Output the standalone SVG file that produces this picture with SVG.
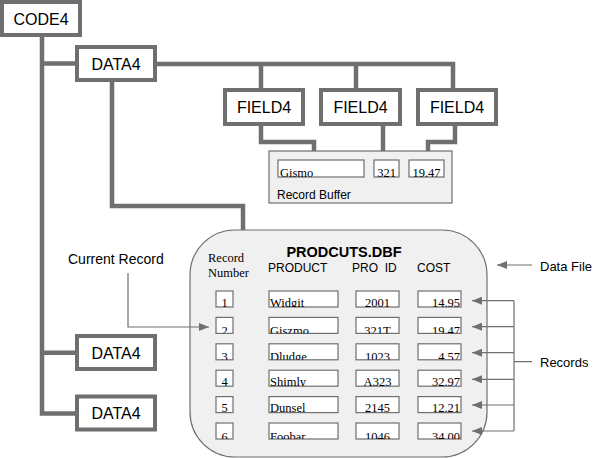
<svg xmlns="http://www.w3.org/2000/svg" width="600" height="458" viewBox="0 0 600 458">
<style>
.box{fill:#fff;stroke:#6f6f6f;stroke-width:4}
.lbl{font-family:"Liberation Sans",Arial,sans-serif;font-size:16px;fill:#000;text-anchor:middle}
.thick{fill:none;stroke:#6f6f6f;stroke-width:4.5}
.thin{fill:none;stroke:#6f6f6f;stroke-width:1.2}
.panel{fill:#f0f0f0;stroke:#6f6f6f;stroke-width:1.2}
.fld{fill:#fff;stroke:#6f6f6f;stroke-width:1.2}
.ser{font-family:"Liberation Serif","Times New Roman",serif;font-size:12.5px;fill:#000}
.sans{font-family:"Liberation Sans",Arial,sans-serif;font-size:12px;fill:#000}
.note{font-family:"Liberation Sans",Arial,sans-serif;font-size:13px;fill:#000}
.title{font-family:"Liberation Sans",Arial,sans-serif;font-size:14.5px;font-weight:bold;fill:#000;text-anchor:middle}
</style>
<defs>
<marker id="ah" viewBox="0 0 10 8" refX="10" refY="4" markerWidth="10" markerHeight="8" markerUnits="userSpaceOnUse" orient="auto">
<path d="M0 0 L10 4 L0 8 Z" fill="#6f6f6f"/>
</marker>
</defs>

<g id="connectors">
<path class="thick" d="M42 35 V413.5 H77"/>
<path class="thick" d="M42 63.5 H77"/>
<path class="thick" d="M42 352.7 H77"/>
<path class="thick" d="M155 64 H453 V90"/>
<path class="thick" d="M261 64 V90"/>
<path class="thick" d="M356 64 V90"/>
<path class="thick" d="M261 124 V142 H314 V151"/>
<path class="thick" d="M383 124 V151"/>
<path class="thick" d="M455 124 V142 H428 V151"/>
<path class="thick" d="M112 80 V206 H243 V231"/>
</g>

<g id="code4"><rect class="box" x="2" y="2" width="78" height="33"/><text class="lbl" x="41" y="24.5">CODE4</text></g>
<g id="data4-top"><rect class="box" x="77" y="47" width="78" height="33"/><text class="lbl" x="116" y="69.5">DATA4</text></g>
<g id="data4-2"><rect class="box" x="77" y="336" width="78" height="33"/><text class="lbl" x="116" y="358.5">DATA4</text></g>
<g id="data4-3"><rect class="box" x="77" y="396.5" width="78" height="33"/><text class="lbl" x="116" y="419">DATA4</text></g>
<g id="field4-1"><rect class="box" x="225" y="90" width="78" height="34"/><text class="lbl" x="264" y="113">FIELD4</text></g>
<g id="field4-2"><rect class="box" x="321" y="90" width="79" height="34"/><text class="lbl" x="360.5" y="113">FIELD4</text></g>
<g id="field4-3"><rect class="box" x="418" y="90" width="78" height="34"/><text class="lbl" x="457" y="113">FIELD4</text></g>

<g id="record-buffer">
<rect class="panel" x="269" y="151" width="183" height="52"/>
<rect class="fld" x="278" y="160" width="86" height="17"/>
<svg x="278" y="160" width="86" height="17"><text class="ser" x="2" y="17">Gismo</text></svg>
<rect class="fld" x="374" y="160" width="25" height="17"/>
<svg x="374" y="160" width="25" height="17"><text class="ser" x="12.5" y="17" text-anchor="middle">321</text></svg>
<rect class="fld" x="409" y="160" width="35" height="17"/>
<svg x="409" y="160" width="35" height="17"><text class="ser" x="17.5" y="17" text-anchor="middle">19.47</text></svg>
<text class="sans" x="277" y="199">Record Buffer</text>
</g>

<g id="data-file">
<rect class="panel" x="190" y="230" width="297" height="227" rx="45" ry="45"/>
<text class="title" x="344" y="256.5">PRODCUTS.DBF</text>
<text class="ser" x="208" y="262">Record</text>
<text class="ser" x="208" y="277">Number</text>
<text class="sans" x="268" y="272">PRODUCT</text>
<text class="sans" x="352" y="272" xml:space="preserve">PRO  ID</text>
<text class="sans" x="417" y="272">COST</text>
</g>

<g id="row-1">
<rect class="fld" x="216" y="291" width="17" height="16"/><svg x="216" y="291" width="17" height="16"><text class="ser" x="8.5" y="15.5" text-anchor="middle">1</text></svg>
<rect class="fld" x="269" y="291" width="69" height="16"/><svg x="269" y="291" width="69" height="16"><text class="ser" x="1" y="15.5">Widgit</text></svg>
<rect class="fld" x="356" y="291" width="43" height="16"/><svg x="356" y="291" width="43" height="16"><text class="ser" x="21.5" y="15.5" text-anchor="middle">2001</text></svg>
<rect class="fld" x="418" y="291" width="43" height="16"/><svg x="418" y="291" width="43" height="16"><text class="ser" x="42" y="15.5" text-anchor="end">14.95</text></svg>
</g>
<g id="row-2">
<rect class="fld" x="216" y="317.4" width="17" height="16"/><svg x="216" y="317.4" width="17" height="16"><text class="ser" x="8.5" y="17.5" text-anchor="middle">2</text></svg>
<rect class="fld" x="269" y="317.4" width="69" height="16"/><svg x="269" y="317.4" width="69" height="16"><text class="ser" x="1" y="17.5">Giszmo</text></svg>
<rect class="fld" x="356" y="317.4" width="43" height="16"/><svg x="356" y="317.4" width="43" height="16"><text class="ser" x="21.5" y="17.5" text-anchor="middle">321T</text></svg>
<rect class="fld" x="418" y="317.4" width="43" height="16"/><svg x="418" y="317.4" width="43" height="16"><text class="ser" x="42" y="17.5" text-anchor="end">19.47</text></svg>
</g>
<g id="row-3">
<rect class="fld" x="216" y="343.8" width="17" height="16"/><svg x="216" y="343.8" width="17" height="16"><text class="ser" x="8.5" y="17" text-anchor="middle">3</text></svg>
<rect class="fld" x="269" y="343.8" width="69" height="16"/><svg x="269" y="343.8" width="69" height="16"><text class="ser" x="1" y="17">Dludge</text></svg>
<rect class="fld" x="356" y="343.8" width="43" height="16"/><svg x="356" y="343.8" width="43" height="16"><text class="ser" x="21.5" y="17" text-anchor="middle">1023</text></svg>
<rect class="fld" x="418" y="343.8" width="43" height="16"/><svg x="418" y="343.8" width="43" height="16"><text class="ser" x="42" y="17" text-anchor="end">4.57</text></svg>
</g>
<g id="row-4">
<rect class="fld" x="216" y="370.2" width="17" height="16"/><svg x="216" y="370.2" width="17" height="16"><text class="ser" x="8.5" y="15.5" text-anchor="middle">4</text></svg>
<rect class="fld" x="269" y="370.2" width="69" height="16"/><svg x="269" y="370.2" width="69" height="16"><text class="ser" x="1" y="15.5">Shimly</text></svg>
<rect class="fld" x="356" y="370.2" width="43" height="16"/><svg x="356" y="370.2" width="43" height="16"><text class="ser" x="21.5" y="15.5" text-anchor="middle">A323</text></svg>
<rect class="fld" x="418" y="370.2" width="43" height="16"/><svg x="418" y="370.2" width="43" height="16"><text class="ser" x="42" y="15.5" text-anchor="end">32.97</text></svg>
</g>
<g id="row-5">
<rect class="fld" x="216" y="396.6" width="17" height="16"/><svg x="216" y="396.6" width="17" height="16"><text class="ser" x="8.5" y="15.5" text-anchor="middle">5</text></svg>
<rect class="fld" x="269" y="396.6" width="69" height="16"/><svg x="269" y="396.6" width="69" height="16"><text class="ser" x="1" y="15.5">Dunsel</text></svg>
<rect class="fld" x="356" y="396.6" width="43" height="16"/><svg x="356" y="396.6" width="43" height="16"><text class="ser" x="21.5" y="15.5" text-anchor="middle">2145</text></svg>
<rect class="fld" x="418" y="396.6" width="43" height="16"/><svg x="418" y="396.6" width="43" height="16"><text class="ser" x="42" y="15.5" text-anchor="end">12.21</text></svg>
</g>
<g id="row-6">
<rect class="fld" x="216" y="423" width="17" height="16"/><svg x="216" y="423" width="17" height="16"><text class="ser" x="8.5" y="17.5" text-anchor="middle">6</text></svg>
<rect class="fld" x="269" y="423" width="69" height="16"/><svg x="269" y="423" width="69" height="16"><text class="ser" x="1" y="17.5">Foobar</text></svg>
<rect class="fld" x="356" y="423" width="43" height="16"/><svg x="356" y="423" width="43" height="16"><text class="ser" x="21.5" y="17.5" text-anchor="middle">1046</text></svg>
<rect class="fld" x="418" y="423" width="43" height="16"/><svg x="418" y="423" width="43" height="16"><text class="ser" x="42" y="17.5" text-anchor="end">34.00</text></svg>
</g>

<g id="annotations">
<path class="thin" d="M128 273 V327 H209" marker-end="url(#ah)"/>
<path class="thin" d="M532 265 H497" marker-end="url(#ah)"/>
<path class="thin" d="M514 300.7 H472" marker-end="url(#ah)"/>
<path class="thin" d="M514 326.7 H472" marker-end="url(#ah)"/>
<path class="thin" d="M514 352.7 H472" marker-end="url(#ah)"/>
<path class="thin" d="M514 379.3 H472" marker-end="url(#ah)"/>
<path class="thin" d="M514 405 H472" marker-end="url(#ah)"/>
<path class="thin" d="M514 431 H472" marker-end="url(#ah)"/>
<path class="thin" d="M514 300.7 V431 M514 361.7 H532"/>
<text class="sans" x="68" y="264" style="font-size:14px">Current Record</text>
<text class="note" x="540" y="271">Data File</text>
<text class="note" x="540" y="367">Records</text>
</g>
</svg>
